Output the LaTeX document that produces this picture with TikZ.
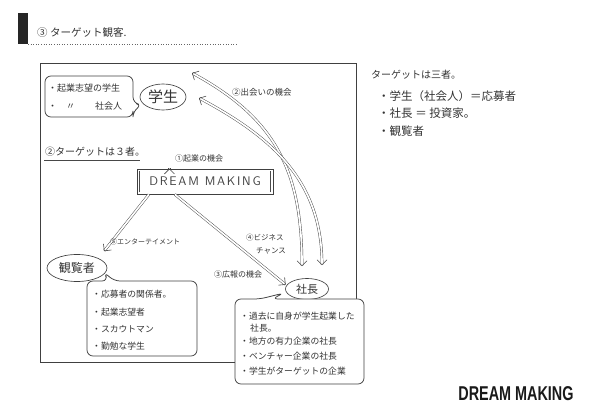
\documentclass[tikz,border=0pt]{standalone}
\usepackage{fontspec}
\newfontfamily\jp{Noto Sans CJK JP}
\newfontfamily\dmbold{Liberation Sans}[BoldFont={* Bold}]
\newfontfamily\dmthin{Latin Modern Sans}[LetterSpace=14]
\usetikzlibrary{arrows.meta,shapes.geometric,calc}
\begin{document}
\begin{tikzpicture}[x=1pt,y=-1pt,
  ink/.style={draw=black!75, line width=0.65pt},
  bub/.style={draw=black!75, line width=0.75pt, fill=white, rounded corners=6pt},
  dbl/.style={draw=black!72, line width=0.45pt, double=white, double distance=1.7pt,
     -{Straight Barb[length=5pt,width=10pt,line width=0.6pt]}},
  dbl2/.style={dbl, {Straight Barb[length=5pt,width=10pt,line width=0.6pt]}-{Straight Barb[length=5pt,width=10pt,line width=0.6pt]}},
  jtxt/.style={font=\jp\fontsize{#1}{#1}\selectfont, text=black!80, inner sep=0pt},
  lbl/.style={jtxt=#1, anchor=west},
]
\useasboundingbox (0,0) rectangle (590,417);
% title
\fill[black!85] (18,13) rectangle (28,44);
\node[lbl=10.5] (title) at (37,33) {③ ターゲット観客.};
\draw[black!60, line width=0.6pt, dotted] (28,44.5) -- (237,44.5);
% frame
\draw[ink, line width=0.75pt] (40,63) rectangle (356,362);
% nodes
\node[ellipse, ink, minimum width=46pt, minimum height=26pt, inner sep=0pt, jtxt=15] (gak) at (163,97) {学生};
\node[ellipse, ink, minimum width=60pt, minimum height=27pt, inner sep=0pt, jtxt=12, fill=white] (kan) at (77,268) {観覧者};
\node[ellipse, ink, minimum width=43pt, minimum height=21pt, inner sep=0pt, jtxt=11, fill=white] (sha) at (307,289) {社長};
\node[draw=black!75, line width=0.9pt, minimum width=136pt, minimum height=25pt, inner sep=0pt,
      font=\dmthin\fontsize{12.5}{12.5}\selectfont, text=black!75] (dm) at (205,181.5) {DREAM MAKING};
\draw[black!70, line width=0.5pt] ([shift={(3,-2)}]dm.south west) -- ([shift={(3,2)}]dm.north west)
  ([shift={(-3,-2)}]dm.south east) -- ([shift={(-3,2)}]dm.north east);
% top-left bubble
\draw[bub] (45,76) -- (133,76) -- (133,103) -- (142,105) -- (133,111) -- (133,117) -- (45,117) -- cycle;
\node[lbl=9] (b1a) at (48,88) {・起業志望の学生};
\node[lbl=9] (b1b) at (48,106) {・　〃　　 社会人};
% kan bubble
\draw[bub] (87,281) -- (108,281) -- (104,272) -- (114,281) -- (197,281) -- (197,356) -- (87,356) -- cycle;
\node[lbl=8.8] (k1) at (92,294) {・応募者の関係者。};
\node[lbl=8.8] (k2) at (92,312) {・起業志望者};
\node[lbl=8.8] (k3) at (92,329) {・スカウトマン};
\node[lbl=8.8] (k4) at (92,346) {・勤勉な学生};
% sha bubble
\draw[bub] (235,299) -- (260,299) -- (284,293) -- (272,299) -- (364,299) -- (364,384) -- (235,384) -- cycle;
\node[lbl=8.8] (s1) at (240,316) {・過去に自身が学生起業した};
\node[lbl=8.8] (s1b) at (250,328) {社長。};
\node[lbl=8.8] (s2) at (240,341) {・地方の有力企業の社長};
\node[lbl=8.8] (s3) at (240,356) {・ベンチャー企業の社長};
\node[lbl=8.8] (s4) at (240,371) {・学生がターゲットの企業};
% target label
\node[lbl=10] (t3) at (45,152) {②ターゲットは３者。};
\draw[black!72, line width=0.6pt] (44,160) -- (140,160);
% arrows
\draw[dbl] ($(dm.north west)!0.24!(dm.north east)$) -- ($(dm.north west)!0.24!(dm.north east)$ |- gak.south) ;
\draw[dbl, shorten >=9pt] ($(dm.south west)!0.09!(dm.south east)$) -- (kan.north east);
\draw[dbl, shorten >=1pt] ($(dm.south west)!0.28!(dm.south east)$) -- (sha.170);
\draw[dbl2] ([shift={(29,-24)}]gak.center) .. controls (275,118) and (302,170) .. ([shift={(-5,-12)}]sha.north);
\draw[dbl2] ([shift={(36,1)}]gak.center) .. controls (268,135) and (322,178) .. ([shift={(15,-13)}]sha.north);
% arrow labels
\node[lbl=8] (l1) at (175,158) {①起業の機会};
\node[lbl=8.5] (l2) at (232,92) {②出会いの機会};
\node[lbl=7] (l5) at (110,242) {⑤エンターテイメント};
\node[lbl=7.5] (l4a) at (246,238) {④ビジネス};
\node[lbl=7.5] (l4b) at (256,251) {チャンス};
\node[lbl=8] (l3) at (214,274) {③広報の機会};
% right text
\node[lbl=10] (r0) at (371,75) {ターゲットは三者。};
\node[lbl=11.5] (r1) at (378,96) {・学生（社会人）＝応募者};
\node[lbl=11.5] (r2) at (378,113) {・社長 ＝ 投資家。};
\node[lbl=11.5] (r3) at (378,131) {・観覧者};
% logo
\node[inner sep=0pt, text=black!90] (logo) at (516,394) {\scalebox{0.72}[1]{\dmbold\bfseries\fontsize{20}{20}\selectfont DREAM MAKING}};
\end{tikzpicture}
\end{document}
